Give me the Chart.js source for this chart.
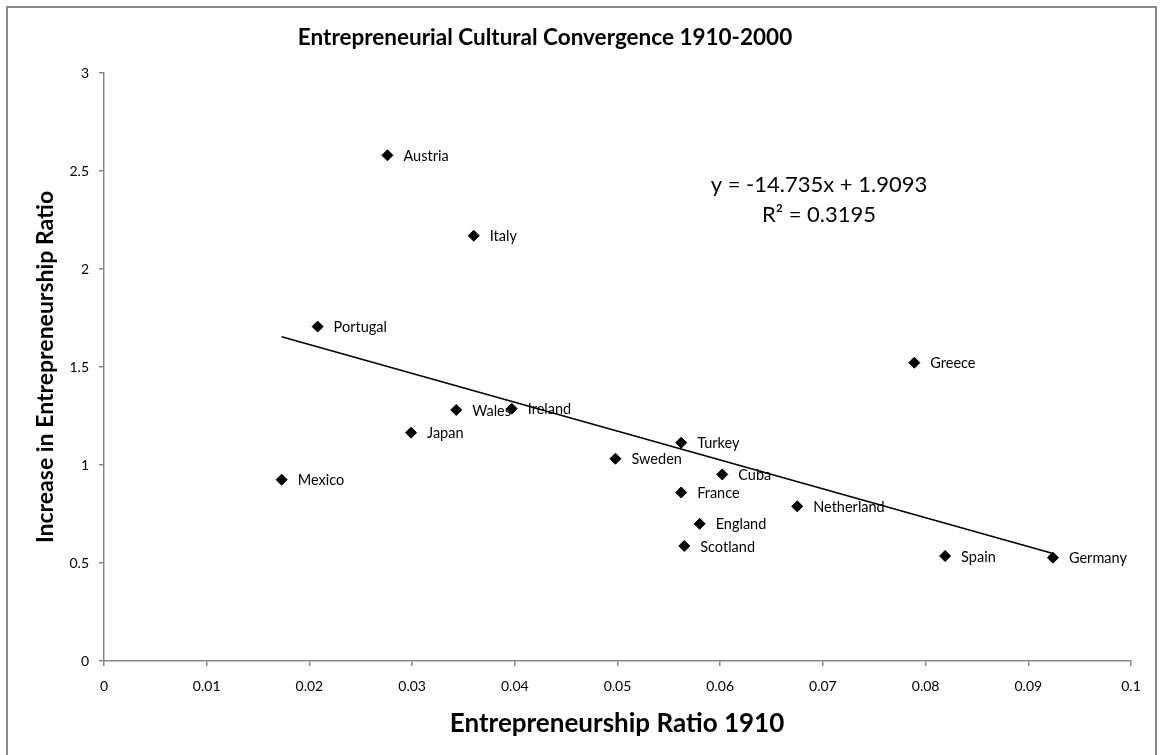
<!DOCTYPE html>
<html>
<head>
<meta charset="utf-8">
<script src="https://cdn.jsdelivr.net/npm/chart.js@4.4.0/dist/chart.umd.min.js"></script>
<style>
  html, body { margin: 0; padding: 0; background: #fff; overflow: hidden; }
  #frame { position: absolute; left: 6px; top: 6px; width: 1151px; height: 800px; border: 2px solid #8a8a8a; box-sizing: border-box; }
  #cv { position: absolute; left: 0; top: 0; }
</style>
</head>
<body>
<div id="frame"></div>
<canvas id="cv" width="1164" height="755"></canvas>
<script>
// countries and their values
var countries = ['Austria', 'Italy', 'Portugal', 'Greece', 'Wales', 'Ireland', 'Japan', 'Turkey', 'Sweden',
                 'Mexico', 'Cuba', 'France', 'Netherland', 'England', 'Scotland', 'Spain', 'Germany'];
var ratio1910 = [0.0276, 0.0360, 0.0208, 0.0789, 0.0343, 0.0397, 0.0299, 0.0562, 0.0498,
                 0.0173, 0.0602, 0.0562, 0.0675, 0.0580, 0.0565, 0.0819, 0.0924];
var increase = [2.58, 2.17, 1.706, 1.522, 1.281, 1.287, 1.165, 1.114, 1.032,
                0.925, 0.952, 0.860, 0.789, 0.700, 0.587, 0.536, 0.527];

// linear trend line endpoints (first and last x of the data)
var trendX = [0.0173, 0.0924];
var trendY = [1.654, 0.548];

var xTicks = [0, 0.01, 0.02, 0.03, 0.04, 0.05, 0.06, 0.07, 0.08, 0.09, 0.1];
var yTicks = [0, 0.5, 1, 1.5, 2, 2.5, 3];

var chartTitle = 'Entrepreneurial Cultural Convergence 1910-2000';
var xTitle = 'Entrepreneurship Ratio 1910';
var yTitle = 'Increase in Entrepreneurship Ratio';
var eqLine1 = 'y = -14.735x + 1.9093';
var eqLine2 = 'R\u00b2 = 0.3195';

var FONT = 'Lato, "Open Sans", sans-serif';

var points = ratio1910.map(function (x, i) { return { x: x, y: increase[i] }; });
var trend = trendX.map(function (x, i) { return { x: x, y: trendY[i] }; });

// draws point labels, titles and the equation
var textPlugin = {
    id: 'texts',
    afterDatasetsDraw: function (chart) {
        var ctx = chart.ctx;
        var meta = chart.getDatasetMeta(0);
        ctx.save();
        ctx.fillStyle = '#000';
        ctx.font = '14.5px ' + FONT;
        ctx.textAlign = 'left';
        ctx.textBaseline = 'middle';
        meta.data.forEach(function (el, i) {
            ctx.fillText(countries[i], el.x + 16, el.y + 1);
        });

        ctx.textAlign = 'center';
        ctx.font = 'bold 22.5px ' + FONT;
        ctx.fillText(chartTitle, 545, 38);

        ctx.font = 'bold 26px ' + FONT;
        ctx.fillText(xTitle, 617, 724);

        ctx.font = 'bold 23px ' + FONT;
        ctx.save();
        ctx.translate(46, 367);
        ctx.rotate(-Math.PI / 2);
        ctx.fillText(yTitle, 0, 0);
        ctx.restore();

        ctx.font = '22px ' + FONT;
        ctx.fillText(eqLine1, 819, 185);
        ctx.fillText(eqLine2, 819, 215);
        ctx.restore();
    }
};

var ctx = document.getElementById('cv').getContext('2d');
var chart = new Chart(ctx, {
    type: 'scatter',
    data: {
        datasets: [{
            label: 'countries',
            data: points,
            pointStyle: 'rectRot',
            pointRadius: 5.5,
            pointHoverRadius: 5.5,
            backgroundColor: '#000',
            borderColor: '#000',
            borderWidth: 1
        }, {
            type: 'line',
            label: 'trend',
            data: trend,
            borderColor: '#000',
            borderWidth: 1.5,
            pointRadius: 0,
            fill: false
        }]
    },
    options: {
        responsive: false,
        animation: false,
        layout: { padding: { left: 0, top: 73, right: 33, bottom: 0 } },
        plugins: {
            legend: { display: false },
            tooltip: { enabled: false }
        },
        scales: {
            x: {
                type: 'linear',
                min: 0,
                max: 0.1,
                afterFit: function (s) { s.height = 94; },
                afterBuildTicks: function (s) { s.ticks = xTicks.map(function (v) { return { value: v }; }); },
                border: { color: '#868686', width: 1.5 },
                grid: { drawOnChartArea: false, tickLength: 5, color: '#868686', lineWidth: 1.5 },
                ticks: {
                    color: '#000',
                    padding: 12,
                    maxRotation: 0,
                    font: { family: FONT, size: 14 },
                    callback: function (v) { return String(Math.round(v * 100) / 100); }
                }
            },
            y: {
                type: 'linear',
                min: 0,
                max: 3,
                afterFit: function (s) { s.width = 104; },
                afterBuildTicks: function (s) { s.ticks = yTicks.map(function (v) { return { value: v }; }); },
                border: { color: '#868686', width: 1.5 },
                grid: { drawOnChartArea: false, tickLength: 5, color: '#868686', lineWidth: 1.5 },
                ticks: {
                    color: '#000',
                    padding: 10,
                    font: { family: FONT, size: 14 },
                    callback: function (v) { return String(v); }
                }
            }
        }
    },
    plugins: [textPlugin]
});
</script>
</body>
</html>
